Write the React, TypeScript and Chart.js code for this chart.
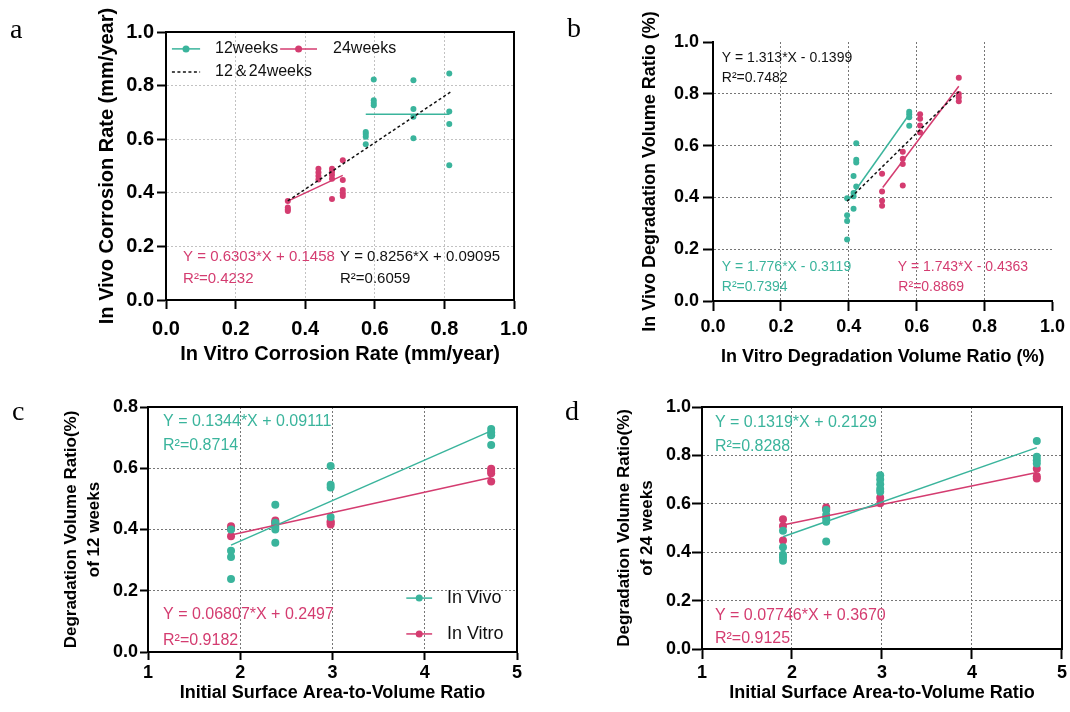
import React, { useEffect, useRef } from 'react';
import { Chart, registerables } from 'chart.js';

Chart.register(...registerables);

const TEAL = '#3AB49C';
const PINK = '#D43C70';
const BLACK = '#111111';
const SANS = "'Liberation Sans', Arial, Helvetica, sans-serif";
const SERIF = "'Liberation Serif', 'Times New Roman', serif";
const GRID_LIGHT = '#c2c2c2';
const GRID_DARK = '#767676';

// ---------------- Panel a ----------------
const a12X = [0.574, 0.597, 0.711, 0.814];
const a12Y = [
  [0.627, 0.619, 0.609, 0.581],
  [0.823, 0.745, 0.735, 0.727],
  [0.820, 0.713, 0.684, 0.604],
  [0.845, 0.703, 0.657, 0.503],
];
const a24X = [0.350, 0.438, 0.477, 0.508];
const a24Y = [
  [0.369, 0.345, 0.338, 0.332],
  [0.490, 0.476, 0.463, 0.450],
  [0.490, 0.479, 0.466, 0.452, 0.377],
  [0.521, 0.448, 0.410, 0.398, 0.388],
];
const a12FitX = [0.574, 0.814];
const a12FitY = [0.693, 0.693];
const a24FitX = [0.350, 0.508];
const a24FitY = [0.369, 0.465];
const aAllFitX = [0.350, 0.820];
const aAllFitY = [0.370, 0.778];

// ---------------- Panel b ----------------
const bVivoX = [0.395, 0.414, 0.422, 0.578];
const bVivoY = [
  [0.397, 0.331, 0.309, 0.237],
  [0.483, 0.417, 0.404, 0.356],
  [0.609, 0.545, 0.535, 0.442],
  [0.731, 0.721, 0.709, 0.677],
];
const bVitroX = [0.498, 0.559, 0.610, 0.724];
const bVitroY = [
  [0.491, 0.423, 0.387, 0.368],
  [0.576, 0.549, 0.529, 0.446],
  [0.721, 0.704, 0.678, 0.651],
  [0.862, 0.799, 0.786, 0.771],
];
const bVivoFitX = [0.400, 0.580];
const bVivoFitY = [0.391, 0.724];
const bVitroFitX = [0.500, 0.724];
const bVitroFitY = [0.438, 0.829];
const bAllFitX = [0.395, 0.724];
const bAllFitY = [0.385, 0.808];

// ---------------- Panel c ----------------
const ratioX = [1.9, 2.38, 2.98, 4.72];
const cVivoY = [
  [0.400, 0.331, 0.310, 0.238],
  [0.481, 0.422, 0.408, 0.400, 0.357],
  [0.607, 0.546, 0.537, 0.441],
  [0.728, 0.717, 0.708, 0.676],
];
const cVitroY = [
  [0.411, 0.402, 0.378],
  [0.429, 0.424, 0.416],
  [0.427, 0.422, 0.416],
  [0.598, 0.591, 0.584, 0.557],
];
const cFitX = [1.9, 4.72];
const cVivoFitY = [0.349, 0.722];
const cVitroFitY = [0.382, 0.570];

// ---------------- Panel d ----------------
const dVivoY = [
  [0.489, 0.420, 0.389, 0.378, 0.365],
  [0.574, 0.554, 0.540, 0.526, 0.444],
  [0.718, 0.700, 0.681, 0.661, 0.650],
  [0.860, 0.794, 0.780, 0.767],
];
const dVitroY = [
  [0.536, 0.508, 0.448],
  [0.585, 0.578],
  [0.625, 0.602],
  [0.745, 0.714, 0.705],
];
const dFitX = [1.9, 4.72];
const dVivoFitY = [0.464, 0.832];
const dVitroFitY = [0.512, 0.729];

function columns(xs: number[], ys: number[][]) {
  const pts: { x: number; y: number }[] = [];
  xs.forEach((x, i) => ys[i].forEach((y) => pts.push({ x, y })));
  return pts;
}
function pairs(xs: number[], ys: number[]) {
  return xs.map((x, i) => ({ x, y: ys[i] }));
}

interface TextItem { t: string; x: number; y: number; color: string; size: number }
interface LegendRow { x1: number; x2: number; y: number; color: string; dashed?: boolean; label: string; tx: number; size: number }
interface Spec {
  box: { left: number; top: number; w: number; h: number };
  letter: string; letterX: number; letterY: number;
  yAxisW: number; xAxisH: number; padTop: number; padRight: number;
  xMin: number; xMax: number; xStep: number; xDigits: number;
  yMin: number; yMax: number; yStep: number;
  tickSize: number; xTickLen: number; xTickPad: number; yTickLen: number; yTickPad: number;
  xTitle: string; xTitleSize: number; xTitlePad: number;
  yTitle: string | string[]; yTitleSize: number; yTitleLH: number; yTitlePad: number;
  gridColor: string; hideMax: boolean; frame: boolean; radius: number;
  points: { data: { x: number; y: number }[]; color: string }[];
  fits: { data: { x: number; y: number }[]; color: string; dash?: boolean }[];
  texts: TextItem[];
  legend: LegendRow[];
}

const specs: Spec[] = [
  {
    box: { left: 0, top: 0, w: 540, h: 372 },
    letter: 'a', letterX: 10, letterY: 38,
    yAxisW: 166, xAxisH: 72, padTop: 32, padRight: 26,
    xMin: 0, xMax: 1, xStep: 0.2, xDigits: 1, yMin: 0, yMax: 1, yStep: 0.2,
    tickSize: 20, xTickLen: 9, xTickPad: 8, yTickLen: 9, yTickPad: 3,
    xTitle: 'In Vitro Corrosion Rate (mm/year)', xTitleSize: 20, xTitlePad: 6,
    yTitle: 'In Vivo Corrosion Rate (mm/year)', yTitleSize: 20, yTitleLH: 1.2, yTitlePad: 95,
    gridColor: GRID_LIGHT, hideMax: false, frame: true, radius: 3,
    points: [
      { data: columns(a12X, a12Y), color: TEAL },
      { data: columns(a24X, a24Y), color: PINK },
    ],
    fits: [
      { data: pairs(aAllFitX, aAllFitY), color: BLACK, dash: true },
      { data: pairs(a12FitX, a12FitY), color: TEAL },
      { data: pairs(a24FitX, a24FitY), color: PINK },
    ],
    texts: [
      { t: 'Y = 0.6303*X + 0.1458', x: 0.049, y: 0.160, color: PINK, size: 15 },
      { t: 'R²=0.4232', x: 0.049, y: 0.078, color: PINK, size: 15 },
      { t: 'Y = 0.8256*X + 0.09095', x: 0.5, y: 0.160, color: BLACK, size: 15 },
      { t: 'R²=0.6059', x: 0.5, y: 0.078, color: BLACK, size: 15 },
    ],
    legend: [
      { x1: 0.017, x2: 0.098, y: 0.937, color: TEAL, label: '12weeks', tx: 0.141, size: 16 },
      { x1: 0.328, x2: 0.434, y: 0.937, color: PINK, label: '24weeks', tx: 0.480, size: 16 },
      { x1: 0.017, x2: 0.098, y: 0.851, color: BLACK, dashed: true, label: '12＆24weeks', tx: 0.141, size: 16 },
    ],
  },
  {
    box: { left: 560, top: 0, w: 510, h: 372 },
    letter: 'b', letterX: 7, letterY: 37,
    yAxisW: 153, xAxisH: 71, padTop: 42, padRight: 17,
    xMin: 0, xMax: 1, xStep: 0.2, xDigits: 1, yMin: 0, yMax: 1, yStep: 0.2,
    tickSize: 18, xTickLen: 10, xTickPad: 5, yTickLen: 10, yTickPad: 4,
    xTitle: 'In Vitro Degradation Volume Ratio (%)', xTitleSize: 18, xTitlePad: 4,
    yTitle: 'In Vivo Degradation Volume Ratio (%)', yTitleSize: 18, yTitleLH: 1.2, yTitlePad: 79,
    gridColor: GRID_DARK, hideMax: true, frame: false, radius: 3,
    points: [
      { data: columns(bVivoX, bVivoY), color: TEAL },
      { data: columns(bVitroX, bVitroY), color: PINK },
    ],
    fits: [
      { data: pairs(bAllFitX, bAllFitY), color: BLACK, dash: true },
      { data: pairs(bVivoFitX, bVivoFitY), color: TEAL },
      { data: pairs(bVitroFitX, bVitroFitY), color: PINK },
    ],
    texts: [
      { t: 'Y = 1.313*X - 0.1399', x: 0.026, y: 0.938, color: BLACK, size: 14 },
      { t: 'R²=0.7482', x: 0.026, y: 0.861, color: BLACK, size: 14 },
      { t: 'Y = 1.776*X - 0.3119', x: 0.026, y: 0.129, color: TEAL, size: 14 },
      { t: 'R²=0.7394', x: 0.026, y: 0.052, color: TEAL, size: 14 },
      { t: 'Y = 1.743*X - 0.4363', x: 0.544, y: 0.129, color: PINK, size: 14 },
      { t: 'R²=0.8869', x: 0.546, y: 0.052, color: PINK, size: 14 },
    ],
    legend: [],
  },
  {
    box: { left: 0, top: 380, w: 540, h: 332 },
    letter: 'c', letterX: 12, letterY: 40,
    yAxisW: 148, xAxisH: 60, padTop: 27, padRight: 23,
    xMin: 1, xMax: 5, xStep: 1, xDigits: 0, yMin: 0, yMax: 0.8, yStep: 0.2,
    tickSize: 18, xTickLen: 8, xTickPad: 2, yTickLen: 8, yTickPad: 2,
    xTitle: 'Initial Surface Area-to-Volume Ratio', xTitleSize: 18, xTitlePad: 8,
    yTitle: ['Degradation Volume Ratio(%)', 'of 12 weeks'], yTitleSize: 17, yTitleLH: 1.35, yTitlePad: 60,
    gridColor: GRID_DARK, hideMax: false, frame: true, radius: 4,
    points: [
      { data: columns(ratioX, cVivoY), color: TEAL },
      { data: columns(ratioX, cVitroY), color: PINK },
    ],
    fits: [
      { data: pairs(cFitX, cVivoFitY), color: TEAL },
      { data: pairs(cFitX, cVitroFitY), color: PINK },
    ],
    texts: [
      { t: 'Y = 0.1344*X + 0.09111', x: 1.163, y: 0.752, color: TEAL, size: 16 },
      { t: 'R²=0.8714', x: 1.163, y: 0.673, color: TEAL, size: 16 },
      { t: 'Y = 0.06807*X + 0.2497', x: 1.163, y: 0.121, color: PINK, size: 16 },
      { t: 'R²=0.9182', x: 1.163, y: 0.036, color: PINK, size: 16 },
    ],
    legend: [
      { x1: 3.80, x2: 4.08, y: 0.176, color: TEAL, label: 'In Vivo', tx: 4.24, size: 18 },
      { x1: 3.80, x2: 4.08, y: 0.059, color: PINK, label: 'In Vitro', tx: 4.24, size: 18 },
    ],
  },
  {
    box: { left: 560, top: 380, w: 510, h: 332 },
    letter: 'd', letterX: 5, letterY: 40,
    yAxisW: 142, xAxisH: 63, padTop: 27, padRight: 7,
    xMin: 1, xMax: 5, xStep: 1, xDigits: 0, yMin: 0, yMax: 1, yStep: 0.2,
    tickSize: 18, xTickLen: 10, xTickPad: 3, yTickLen: 10, yTickPad: 1,
    xTitle: 'Initial Surface Area-to-Volume Ratio', xTitleSize: 18, xTitlePad: 8,
    yTitle: ['Degradation Volume Ratio(%)', 'of 24 weeks'], yTitleSize: 17, yTitleLH: 1.35, yTitlePad: 53,
    gridColor: GRID_DARK, hideMax: false, frame: true, radius: 4,
    points: [
      { data: columns(ratioX, dVivoY), color: TEAL },
      { data: columns(ratioX, dVitroY), color: PINK },
    ],
    fits: [
      { data: pairs(dFitX, dVivoFitY), color: TEAL },
      { data: pairs(dFitX, dVitroFitY), color: PINK },
    ],
    texts: [
      { t: 'Y = 0.1319*X + 0.2129', x: 1.144, y: 0.934, color: TEAL, size: 16 },
      { t: 'R²=0.8288', x: 1.144, y: 0.835, color: TEAL, size: 16 },
      { t: 'Y = 0.07746*X + 0.3670', x: 1.144, y: 0.136, color: PINK, size: 16 },
      { t: 'R²=0.9125', x: 1.144, y: 0.045, color: PINK, size: 16 },
    ],
    legend: [],
  },
];

const overlay = {
  id: 'overlay',
  afterDraw(chart: any, _args: any, opts: any) {
    const spec: Spec = opts.spec;
    if (!spec) return;
    const { ctx, chartArea } = chart;
    const xs = chart.scales.x;
    const ys = chart.scales.y;
    ctx.save();
    if (spec.frame) {
      ctx.strokeStyle = '#000';
      ctx.lineWidth = 2;
      ctx.strokeRect(chartArea.left, chartArea.top, chartArea.right - chartArea.left, chartArea.bottom - chartArea.top);
    }
    ctx.textAlign = 'left';
    ctx.textBaseline = 'middle';
    for (const t of spec.texts) {
      ctx.font = `${t.size}px ${SANS}`;
      ctx.fillStyle = t.color;
      ctx.fillText(t.t, xs.getPixelForValue(t.x), ys.getPixelForValue(t.y));
    }
    for (const l of spec.legend) {
      const x1 = xs.getPixelForValue(l.x1);
      const x2 = xs.getPixelForValue(l.x2);
      const y = ys.getPixelForValue(l.y);
      ctx.strokeStyle = l.color;
      ctx.lineWidth = 1.5;
      ctx.setLineDash(l.dashed ? [3, 2.5] : []);
      ctx.beginPath();
      ctx.moveTo(x1, y);
      ctx.lineTo(x2, y);
      ctx.stroke();
      ctx.setLineDash([]);
      if (!l.dashed) {
        ctx.fillStyle = l.color;
        ctx.beginPath();
        ctx.arc((x1 + x2) / 2, y, 3.5, 0, Math.PI * 2);
        ctx.fill();
      }
      ctx.fillStyle = '#111';
      ctx.font = `${l.size}px ${SANS}`;
      ctx.fillText(l.label, xs.getPixelForValue(l.tx), y);
    }
    ctx.fillStyle = '#000';
    ctx.font = `28px ${SERIF}`;
    ctx.textBaseline = 'alphabetic';
    ctx.fillText(spec.letter, spec.letterX, spec.letterY);
    ctx.restore();
  },
};

function buildConfig(spec: Spec): any {
  const datasets: any[] = [];
  spec.fits.forEach((f) => {
    datasets.push({
      data: f.data,
      showLine: true,
      borderColor: f.color,
      backgroundColor: f.color,
      borderWidth: 1.5,
      borderDash: f.dash ? [3, 2.5] : [],
      pointRadius: 0,
      pointHoverRadius: 0,
      fill: false,
    });
  });
  spec.points.forEach((p) => {
    datasets.push({
      data: p.data,
      showLine: false,
      backgroundColor: p.color,
      borderColor: p.color,
      borderWidth: 0,
      pointRadius: spec.radius,
      pointHoverRadius: spec.radius,
    });
  });
  const gridColor = (c: any) =>
    spec.hideMax && c.tick && Math.abs(c.tick.value - 1) < 1e-6 ? 'rgba(0,0,0,0)' : spec.gridColor;
  const tickFont = { family: SANS, size: spec.tickSize, weight: 'bold' as const };
  return {
    type: 'scatter',
    data: { datasets },
    plugins: [overlay],
    options: {
      responsive: false,
      maintainAspectRatio: false,
      animation: false,
      events: [],
      layout: { padding: { top: spec.padTop, right: spec.padRight, left: 0, bottom: 0 } },
      plugins: {
        legend: { display: false },
        tooltip: { enabled: false },
        overlay: { spec },
      },
      scales: {
        x: {
          type: 'linear',
          position: 'bottom',
          min: spec.xMin,
          max: spec.xMax,
          ticks: {
            stepSize: spec.xStep,
            color: '#000',
            font: tickFont,
            padding: spec.xTickPad,
            maxRotation: 0,
            autoSkip: false,
            callback: (v: any) => Number(v).toFixed(spec.xDigits),
          },
          grid: {
            color: gridColor,
            lineWidth: 1,
            drawTicks: true,
            tickLength: spec.xTickLen,
            tickColor: '#000',
            tickWidth: 2,
          },
          border: { display: true, color: '#000', width: 2, dash: [2, 2] },
          title: {
            display: true,
            text: spec.xTitle,
            color: '#000',
            font: { family: SANS, size: spec.xTitleSize, weight: 'bold', lineHeight: 1.2 },
            padding: { top: 0, bottom: spec.xTitlePad },
          },
          afterFit: (s: any) => {
            s.height = spec.xAxisH;
          },
        },
        y: {
          type: 'linear',
          position: 'left',
          min: spec.yMin,
          max: spec.yMax,
          ticks: {
            stepSize: spec.yStep,
            color: '#000',
            font: tickFont,
            padding: spec.yTickPad,
            autoSkip: false,
            callback: (v: any) => Number(v).toFixed(1),
          },
          grid: {
            color: gridColor,
            lineWidth: 1,
            drawTicks: true,
            tickLength: spec.yTickLen,
            tickColor: '#000',
            tickWidth: 2,
          },
          border: { display: true, color: '#000', width: 2, dash: [2, 2] },
          title: {
            display: true,
            text: spec.yTitle,
            color: '#000',
            font: { family: SANS, size: spec.yTitleSize, weight: 'bold', lineHeight: spec.yTitleLH },
            padding: { top: spec.yTitlePad, bottom: 0 },
          },
          afterFit: (s: any) => {
            s.width = spec.yAxisW;
          },
        },
      },
    },
  };
}

function Panel({ spec }: { spec: Spec }) {
  const ref = useRef<HTMLCanvasElement>(null);
  useEffect(() => {
    if (!ref.current) return;
    const chart = new Chart(ref.current, buildConfig(spec));
    return () => chart.destroy();
  }, [spec]);
  return (
    <canvas
      ref={ref}
      width={spec.box.w}
      height={spec.box.h}
      style={{ position: 'absolute', left: spec.box.left, top: spec.box.top, width: spec.box.w, height: spec.box.h }}
    />
  );
}

export default function App() {
  return (
    <div style={{ position: 'absolute', left: 0, top: 0, width: 1070, height: 712, background: '#fff', overflow: 'hidden' }}>
      {specs.map((s, i) => (
        <Panel key={i} spec={s} />
      ))}
    </div>
  );
}
